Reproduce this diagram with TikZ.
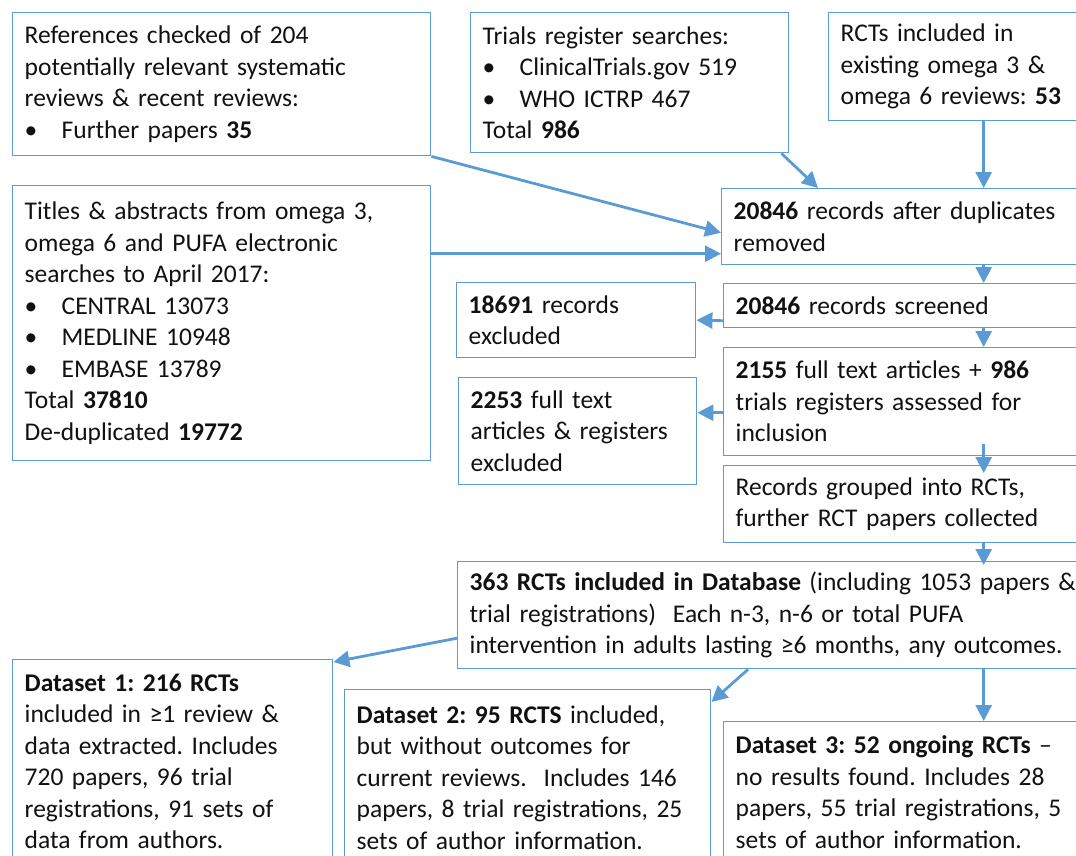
\documentclass[tikz,border=0pt]{standalone}
\usepackage{fontspec}
\setmainfont{Carlito}
\usepackage{tikz}
\usetikzlibrary{arrows.meta}
\definecolor{FlowBlue}{HTML}{5B9BD5}
\definecolor{FlowText}{HTML}{111111}
\newcommand{\bitem}{\makebox[18.5pt][l]{\textbullet}}
\frenchspacing

\begin{document}
\begin{tikzpicture}[
  x=0.5pt,y=-0.5pt,
  box/.style={rectangle,draw=FlowBlue,line width=0.7pt,anchor=north west,align=left,
    inner xsep=6pt,inner ysep=0pt,text=FlowText,font=\fontsize{12.75}{15.75}\selectfont},
  arrow/.style={-{Triangle[length=8pt,width=8pt]},line width=1.4pt,color=FlowBlue}
]
\useasboundingbox (0,0) rectangle (1076,856);
\clip (0,0) rectangle (1076,856);
% sources
\node[box,text width=197pt,minimum height=71.5pt] (refs) at (12,12)
  {References checked of 204\\potentially relevant systematic\\reviews \& recent reviews:\\\bitem Further papers \textbf{35}};
\node[box,text width=147pt,minimum height=70pt] (registers) at (470,12)
  {Trials register searches:\\\bitem ClinicalTrials.gov 519\\\bitem WHO ICTRP 467\\Total \textbf{986}};
\node[box,text width=143pt,minimum height=54pt] (prior) at (828,12)
  {RCTs included in\\existing omega 3 \&\\omega 6 reviews: \textbf{53}};
\node[box,text width=197pt,minimum height=137.5pt] (searches) at (12,185)
  {Titles \& abstracts from omega 3,\\omega 6 and PUFA electronic\\searches to April 2017:\\\bitem CENTRAL 13073\\\bitem MEDLINE 10948\\\bitem EMBASE 13789\\Total \textbf{37810}\\De-duplicated \textbf{19772}};
% main column
\node[box,text width=250pt,minimum height=38pt] (dedup) at (721,188)
  {\textbf{20846} records after duplicates\\removed};
\node[box,text width=248pt,minimum height=22pt] (screened) at (723,283)
  {\textbf{20846} records screened};
\node[box,text width=107.5pt,minimum height=37.5pt] (excluded) at (456,282)
  {\textbf{18691} records\\excluded};
\node[box,text width=248pt,minimum height=54pt] (fulltext) at (723,347)
  {\textbf{2155} full text articles + \textbf{986}\\trials registers assessed for\\inclusion};
\node[box,text width=107pt,minimum height=53.5pt] (ftexcl) at (458,377)
  {\textbf{2253} full text\\articles \& registers\\excluded};
\node[box,text width=248pt,minimum height=38.5pt] (grouped) at (723,465)
  {Records grouped into RCTs,\\further RCT papers collected};
\node[box,text width=514pt,minimum height=53.5pt] (database) at (457,561)
  {\textbf{363 RCTs included in Database} (including 1053 papers \&\\trial registrations)\ \ Each n-3, n-6 or total PUFA\\intervention in adults lasting ≥6 months, any outcomes.};
% datasets
\node[box,text width=148pt,minimum height=101.5pt] (setone) at (12,659)
  {\textbf{Dataset 1: 216 RCTs}\\included in ≥1 review \&\\data extracted. Includes\\720 papers, 96 trial\\registrations, 91 sets of\\data from authors.};
\node[box,text width=171pt,minimum height=88pt] (settwo) at (344,689)
  {\textbf{Dataset 2: 95 RCTS} included,\\but without outcomes for\\current reviews.\ \ Includes 146\\papers, 8 trial registrations, 25\\sets of author information.};
\node[box,text width=248pt,minimum height=70.5pt] (setthree) at (723,721)
  {\textbf{Dataset 3: 52 ongoing RCTs} --\\no results found. Includes 28\\papers, 55 trial registrations, 5\\sets of author information.};
% connectors
\draw[arrow] (refs.south east) -- ([yshift=-3pt]dedup.west);
\path ([yshift=-13.5pt]dedup.west) coordinate (dedupin);
\draw[arrow] (dedupin -| searches.east) -- (dedupin);
\draw[arrow] ([xshift=-4pt]registers.south east) -- ([xshift=48.5pt]dedup.north west);
\draw[arrow] (prior.south) -- (dedup.north);
\draw[arrow] (dedup.south) -- (screened.north);
\draw[arrow] ([yshift=-7.5pt]screened.west) -- (excluded.east);
\draw[arrow] (screened.south) -- (fulltext.north);
\draw[arrow] ([yshift=-5.5pt]fulltext.west) -- ([yshift=9.25pt]ftexcl.east);
\draw[arrow] ([yshift=6pt]fulltext.south) -- ([yshift=-4pt]grouped.north);
\draw[arrow] (grouped.south) -- ([yshift=-2pt]database.north);
\draw[arrow] ([yshift=-11.5pt]database.west) -- ([yshift=-1.5pt]setone.north east);
\draw[arrow] ([xshift=145.5pt]database.south west) -- ([yshift=-6.5pt]settwo.north east);
\draw[arrow] (database.south) -- (setthree.north);
\end{tikzpicture}
\end{document}
